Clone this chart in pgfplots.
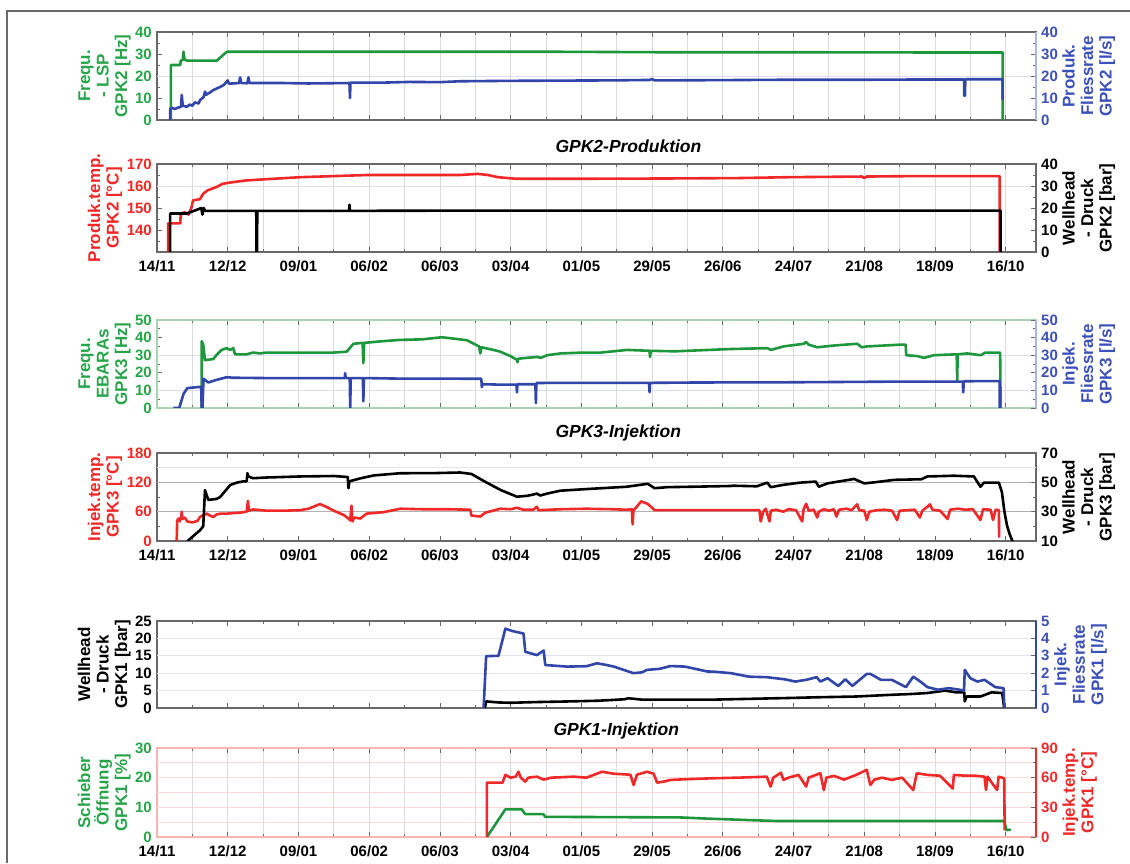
\documentclass[border=0pt]{standalone}
\usepackage{pgfplots}
\pgfplotsset{compat=1.18}
\usepackage{fontspec}
\setmainfont{Liberation Sans}
\definecolor{cgreen}{RGB}{30,150,60}
\definecolor{cblue}{RGB}{50,70,170}
\definecolor{cred}{RGB}{240,40,40}
\definecolor{lgreen}{RGB}{40,165,75}
\definecolor{lblue}{RGB}{60,80,185}
\definecolor{axgray}{RGB}{105,105,105}
\newcommand\tk{\bfseries\fontsize{15}{15}\selectfont}
\newcommand\lb{\bfseries\fontsize{17}{18.5}\selectfont}
\newcommand\ttl{\bfseries\itshape\fontsize{17.5}{18}\selectfont}

\pgfplotsset{
 panel/.style={scale only axis, width=879pt, xmin=0, xmax=348,
   xtick={0,28,...,336}, minor xtick={14,42,...,322},
   xticklabels={},
   tick align=inside,
   major tick length=5pt, minor tick length=3pt,
   every tick/.style={axgray, line width=0.8pt},
   tick label style={font=\tk, inner sep=1pt},
   xticklabel style={yshift=-7pt},
   /pgf/number format/assume math mode=true,
   axis line style={axgray, line width=1.2pt},
   ylabel style={font=\lb, align=center},
   every axis plot/.append style={no markers, line width=2.6pt, line join=round},
   anchor=south west,
 },
 leftax/.style={panel, ytick pos=left, yticklabel style={xshift=-4pt}},
 rightax/.style={panel, hide x axis, axis y line*=right, yticklabel style={xshift=4pt}},
 vgrid/.style={xmajorgrids, xminorgrids, major grid style={gray!28, line width=0.8pt}, minor grid style={gray!28, line width=0.8pt}},
 hgrid/.style={extra y ticks={#1}, extra y tick labels={}, extra y tick style={grid=major, major tick length=0pt}},
 datelabels/.style={xticklabels={14/11,12/12,09/01,06/02,06/03,03/04,01/05,29/05,26/06,24/07,21/08,18/09,16/10}},
}

\begin{document}
\begin{tikzpicture}
\useasboundingbox (0pt,0pt) rectangle (1130pt,863pt);
\draw[axgray, line width=1.6pt] (7pt,0pt) -- (7pt,852pt) -- (1130pt,852pt);

% ---------------- Panel 1 ----------------
\begin{axis}[leftax, vgrid, at={(157pt,743pt)}, height=88pt, ymin=0, ymax=40,
  ytick={0,10,20,30,40}, minor ytick={5,15,25,35},
  yticklabel style={text=lgreen}, ylabel={Frequ.\\- LSP\\GPK2 [Hz]}, ylabel style={text=lgreen},
  hgrid={20}, extra y tick style={major grid style={cblue!18, line width=0.8pt}}]
\addplot[cgreen] coordinates {(5.5,0) (5.5,25) (9.2,25) (9.4,27) (10.2,27.2) (10.5,31) (10.9,27.5) (12,27) (23.7,27) (27.6,31) (40,31) (80,31) (120,31) (160,31) (200,30.8) (250,30.8) (300,30.7) (334.8,30.7) (334.8,0)};
\end{axis}
\begin{axis}[rightax, at={(157pt,743pt)}, height=88pt, ymin=0, ymax=40,
  ytick={0,10,20,30,40}, minor ytick={5,15,25,35},
  yticklabel style={text=lblue}, ylabel={Produk.\\Fliessrate\\GPK2 [l/s]}, ylabel style={text=lblue},
  axis line style={-, draw=cblue!40, line width=1.2pt}]
\addplot[cblue] coordinates {(5.2,0) (5.2,5) (6,5.5) (7,5) (8,5.5) (9.5,6) (9.8,11.4) (10.2,6.5) (11.8,6) (13,7) (14,6.5) (15,8) (16.5,7.5) (17,9) (18.5,10.5) (19,12.9) (19.5,11.5) (21,12.5) (22.3,13.6) (24,14.5) (25,15) (26.5,16) (27.6,17.4) (28,18) (28.5,16.5) (32.5,16.8) (32.9,19.4) (33.3,16.8) (35.8,16.7) (36.2,19.4) (36.6,16.8) (50,16.8) (60,16.6) (76.2,16.8) (76.4,10) (76.6,17) (90,17) (100,17.3) (112,17.2) (120,17.6) (140,17.8) (160,17.9) (180,18) (195,18.2) (196,18.6) (197,18) (220,18.1) (250,18.3) (280,18.3) (300,18.4) (319.5,18.4) (319.6,11) (319.9,11) (320,18.5) (334.8,18.5) (334.8,9)};
\end{axis}

\node[anchor=west, font=\ttl] at (552pt,717pt) {GPK2-Produktion};

% ---------------- Panel 2 ----------------
\begin{axis}[leftax, vgrid, datelabels, at={(157pt,611pt)}, height=88pt, ymin=130, ymax=170,
  ytick={140,150,160,170}, minor ytick={135,145,155,165},
  yticklabel style={text=cred}, ylabel={Produk.temp.\\GPK2 [°C]}, ylabel style={text=cred},
  hgrid={160}, extra y tick style={major grid style={gray!25, line width=0.8pt}}]
\addplot[cred] coordinates {(4.4,130) (4.4,143) (9.2,143) (9.4,147.5) (11,148) (12.5,147) (13.6,150) (14.3,153.5) (17,154) (18.3,156.5) (20,158) (23.5,159.5) (26,161) (28.5,161.5) (35,162.5) (42,163) (56.6,164) (70,164.5) (83.5,165) (100,165) (120,165) (127,165.5) (131,165) (135,164) (142,163.3) (170,163.3) (200,163.4) (230,163.6) (250,164) (279,164.3) (280,163.6) (281,164.3) (300,164.5) (333.6,164.5) (333.6,130)};
\end{axis}
\begin{axis}[rightax, at={(157pt,611pt)}, height=88pt, ymin=0, ymax=40,
  ytick={0,10,20,30,40}, minor ytick={5,15,25,35},
  ylabel={Wellhead\\- Druck\\GPK2 [bar]},
  axis line style={-, draw=axgray, line width=1.2pt}]
\addplot[black] coordinates {(5.2,0) (5.2,17.5) (11.8,17.5) (13,18) (16.5,19.5) (17.5,20) (18,17) (18.5,20) (19,18.7) (39.3,18.7) (39.4,0) (39.6,0) (39.7,18.7) (76,18.7) (76.2,21.5) (76.4,18.7) (120,18.8) (200,18.8) (334,18.8) (334,0)};
\end{axis}

% ---------------- Panel 3 ----------------
\begin{axis}[leftax, vgrid, at={(157pt,455pt)}, height=88pt, ymin=0, ymax=50,
  ytick={0,10,...,50}, minor ytick={5,15,...,45},
  axis line style={draw=cgreen!40},
  yticklabel style={text=lgreen}, ylabel={Frequ.\\EBARAs\\GPK3 [Hz]}, ylabel style={text=lgreen},
  hgrid={10,30}, extra y tick style={major grid style={cblue!18, line width=0.8pt}}]
\addplot[cgreen] coordinates {(17.7,0) (17.7,38) (18.3,36) (19,27.2) (22.3,27.8) (23.6,30.2) (25.6,33) (27.6,34) (29,33) (30.2,34) (30.9,30.5) (35.5,30.5) (38,31.5) (40.8,31) (43.5,31.5) (60,31.5) (70,31.5) (75.1,32) (77.8,36.5) (81.4,37) (81.7,25.5) (82,37) (89.7,38) (96.3,38.7) (105,39) (112.8,40.2) (117,39.5) (122.7,38.5) (127.5,35) (128,31) (128.5,34.5) (133.2,33) (135.9,32) (139.9,29.5) (142.5,27.4) (142.7,26) (143,28) (146.5,28.5) (150.4,29) (152,28.5) (154.4,30) (159.7,31) (168.9,31.5) (175.8,31.5) (186.1,33) (195,32.5) (195.2,29) (195.5,32.5) (205,32.2) (215.1,32.8) (227,33.5) (241.6,34) (243,33) (248.1,35) (256.1,36.5) (257,37.5) (258,36) (261.4,34.5) (268,35.5) (277.2,36.5) (279,34.5) (281.2,35) (294.4,36) (296.4,36) (296.6,30) (301,29.5) (303.6,28.5) (307.6,30) (316.6,30.5) (316.8,15.5) (317,30.5) (320.8,31) (326.1,30) (328,31.5) (333.8,31.5) (334,0)};
\end{axis}
\begin{axis}[rightax, at={(157pt,455pt)}, height=88pt, ymin=0, ymax=50,
  ytick={0,10,...,50}, minor ytick={5,15,...,45},
  yticklabel style={text=lblue}, ylabel={Injek.\\Fliessrate\\GPK3 [l/s]}, ylabel style={text=lblue},
  axis line style={-, draw=cblue!40, line width=1.2pt}]
\addplot[cblue] coordinates {(6.5,0) (8.8,0) (10.5,8) (12,11.3) (17,12) (17.5,12) (17.7,0) (18,0) (18.4,16.6) (19,16) (20.3,14.5) (23.6,16) (27.6,17.5) (30,17.2) (43.5,17) (70,17) (74.3,17) (74.5,19.8) (74.7,17) (76.3,17) (76.5,0) (76.7,17) (81.5,17) (81.7,3.8) (81.9,17) (96,16.7) (110,16.7) (128.4,16.6) (128.6,11.9) (128.8,13.5) (135,13.3) (142.3,13.3) (142.5,8.9) (142.7,13.5) (149.8,13.5) (150,2.8) (150.2,14.2) (160,14.3) (194.8,14.3) (195,9) (195.2,14.3) (215,14.5) (250,14.6) (294,15) (319,15) (319.2,8.9) (319.4,15.2) (333.6,15.3) (333.6,0)};
\end{axis}

\node[anchor=west, font=\ttl] at (552pt,430pt) {GPK3-Injektion};

% ---------------- Panel 4 ----------------
\begin{axis}[leftax, datelabels, at={(157pt,322pt)}, height=88pt, ymin=0, ymax=180,
  ytick={0,60,120,180}, minor ytick={30,90,150},
  yticklabel style={text=cred}, ylabel={Injek.temp.\\GPK3 [°C]}, ylabel style={text=cred},
  hgrid={60,120}, extra y tick style={major grid style={gray!60, line width=0.9pt}}]
\addplot[cred] coordinates {(7.8,0) (8,42) (8.6,46) (9,40) (9.6,50) (9.8,60) (10,45) (11,48) (12,40) (14,38) (16,41) (17,49) (18,52) (19.6,56) (21,52) (22.3,49) (23.5,54) (25,56) (27.6,56) (30,57) (33,58) (35.5,60) (36,82) (36.4,62) (38,64.5) (43.5,62) (50,62) (56.6,63) (60,66) (64.5,75.5) (67,70) (70,62) (74,53) (76,45) (76.5,42) (77,72) (77.4,40) (78,48) (80.5,46) (83,56) (89.7,59) (96.3,66) (105,65) (115,65) (124,64) (124.5,52) (128,50) (130,58) (136,66) (140,65) (142.5,68) (145,64) (149,64) (150.4,70) (151,63) (160,65) (170,66) (180,65) (186,64) (188,65) (188.3,34) (188.6,62) (191.7,81) (194.3,76) (197,63) (215,63) (238.5,63) (239,40) (240,60) (241,66) (242.5,40) (243,62) (245,64) (248,60) (250,65) (253,63) (255.4,40) (256,65) (257,76) (258,62) (260,64) (261.4,48) (262,60) (264,65) (266,62) (268,65) (269,50) (270,64) (273,66) (275,63) (277.2,75) (278,63) (280,62) (281,43) (282,60) (285,63) (288,64) (291,62) (293,43) (294,62) (297,63) (300,64) (302,48) (303,62) (305,70) (306,75) (307,64) (310,62) (313,45) (314,64) (317,66) (320,64) (323,65) (326,43) (327,65) (330,64) (331,43) (332,64) (333.3,63) (333.4,7)};
\end{axis}
\begin{axis}[rightax, at={(157pt,322pt)}, height=88pt, ymin=10, ymax=70,
  ytick={10,30,50,70}, minor ytick={20,40,60},
  ylabel={Wellhead\\- Druck\\GPK3 [bar]},
  hgrid={60}, extra y tick style={major grid style={gray!20, line width=0.8pt}},
  axis line style={-, draw=axgray, line width=1.2pt}]
\addplot[black] coordinates {(12.1,10) (17,17.3) (18.3,20) (19,44.7) (20.3,38) (23.6,38.7) (25,40) (29,48.2) (31.6,49.8) (34.2,50.7) (35.5,50.7) (35.8,56.2) (36.2,54) (38,52.8) (43.5,53.3) (56.6,54) (70,54.3) (75,53.7) (75.5,53.7) (75.8,46) (76.2,50.7) (80.5,52.7) (85.8,54.7) (96.3,56.2) (110,56.3) (120,56.7) (124.5,55.7) (129.8,50.5) (136,44.8) (142.5,40.2) (146.5,40.8) (149,41.7) (150.4,42.3) (151.7,41) (154.4,42.3) (159.7,44.3) (169,45.3) (186,47) (194.3,49) (197,46) (202,46.7) (215,47.1) (227,47.5) (228,47.7) (237.5,47.3) (241.6,49.8) (243,46.7) (248,48.3) (254.7,49.8) (260.8,50.5) (262,47) (265.5,49.3) (276,52.3) (280,49.3) (284,50) (292,51.7) (302.6,52.1) (305,54) (315.5,54.5) (323.4,54) (326,47) (327.4,49.8) (333.3,49.8) (334.5,43.3) (335.5,30) (336.5,20.7) (337.5,15) (338.5,10.7) (339.5,6.7)};
\end{axis}

% ---------------- Panel 5 ----------------
\begin{axis}[leftax, at={(157pt,155pt)}, height=87pt, ymin=0, ymax=25,
  ytick={0,5,...,25},
  ylabel={Wellhead\\- Druck\\GPK1 [bar]},
  hgrid={5,10,15,20}, extra y tick style={major grid style={cblue!15, line width=0.8pt}}]
\addplot[black] coordinates {(129.8,0) (130.3,1.9) (135,1.6) (140,1.5) (150,1.7) (163.8,1.9) (175,2.1) (185,2.5) (186.7,2.8) (192,2.4) (220,2.4) (248.5,2.85) (262.6,3.1) (276.8,3.3) (290.9,3.8) (298,4.0) (305,4.3) (312,5.0) (316.3,4.5) (319.6,4.5) (319.8,1.9) (320.5,3.3) (326,3.3) (330.4,4.5) (334.6,4.3) (335.4,0)};
\end{axis}
\begin{axis}[rightax, at={(157pt,155pt)}, height=87pt, ymin=0, ymax=5,
  ytick={0,1,...,5},
  yticklabel style={text=lblue}, ylabel={Injek.\\Fliessrate\\GPK1 [l/s]}, ylabel style={text=lblue},
  axis line style={-, draw=cblue, line width=1.2pt}]
\addplot[cblue] coordinates {(129.3,0) (130.3,2.98) (135.2,3.0) (137.9,4.56) (140.5,4.43) (145.1,4.28) (145.8,3.23) (150.4,3.04) (152,3.2) (153.1,3.3) (153.7,2.47) (162.3,2.38) (170,2.4) (174.2,2.57) (178,2.47) (180.8,2.38) (188.7,2.0) (192,2.05) (194,2.19) (199,2.25) (203.3,2.41) (209,2.38) (217.8,2.1) (220.3,2.09) (227.3,2.0) (234.4,1.8) (241.4,1.77) (248.5,1.65) (252.7,1.52) (257,1.62) (261.2,1.77) (262.6,1.52) (265.5,1.71) (269.7,1.27) (272.5,1.65) (275.3,1.27) (281,1.96) (282.4,1.96) (286.6,1.62) (290.9,1.62) (296.5,1.2) (299.4,1.8) (302.2,1.52) (305,1.2) (309.2,1.05) (313.5,1.14) (317.7,1.05) (319.5,1.0) (319.8,2.19) (322,1.71) (324.8,1.52) (327.6,1.62) (331.9,1.2) (335.2,1.14) (335.4,0)};
\end{axis}

\node[anchor=west, font=\ttl] at (550pt,132pt) {GPK1-Injektion};

% ---------------- Panel 6 ----------------
\begin{axis}[leftax, vgrid, datelabels, at={(157pt,26pt)}, height=89pt, ymin=0, ymax=30,
  ytick={0,10,20,30}, minor ytick={5,15,25},
  y axis line style={draw=cred!35},
  yticklabel style={text=lgreen}, ylabel={Schieber\\Öffnung\\GPK1 [\%]}, ylabel style={text=lgreen},
  hgrid={5,10,15,20,25}, extra y tick style={major grid style={cred!18, line width=0.8pt}}]
\addplot[cgreen] coordinates {(130.6,0) (137.9,9.3) (144.4,9.3) (145.8,7.7) (153,7.7) (153.7,6.8) (180,6.7) (207,6.6) (217.8,6.2) (234.4,5.7) (245,5.4) (335.4,5.4) (336.3,2.3) (338,2.5)};
\end{axis}
\begin{axis}[rightax, at={(157pt,26pt)}, height=89pt, ymin=0, ymax=90,
  ytick={0,30,60,90}, minor ytick={15,45,75},
  yticklabel style={text=cred}, ylabel={Injek.temp.\\GPK1 [°C]}, ylabel style={text=cred},
  axis line style={-, draw=cred, line width=1.2pt}]
\addplot[cred] coordinates {(130.6,0) (130.6,55) (136.8,55) (137.9,62.8) (140,60) (142,61) (143.1,66) (144,60) (145.8,56) (147,60) (150.4,61) (153.1,58) (156,60) (165,61) (170,60) (176.2,66) (180.8,64) (187.4,63) (188.7,52.6) (190,63) (194,66) (196.6,64) (198,55) (200.6,56) (203.3,57.7) (210,58.5) (220.3,59.4) (230,60) (241.4,61) (242.9,51) (244,60) (247,65) (248,57.7) (250,60) (254,62.8) (257,51) (258,60) (262.6,64.5) (264,47.5) (265,60) (268,61.8) (272,58) (276.8,62.8) (281,67.9) (282.4,52.6) (284,58) (287,60) (290.9,57.7) (295,60) (299.4,47.5) (300.8,64.5) (305,62.8) (310,62) (315,49) (315.5,62.8) (320,62) (324,62) (327.6,61) (328.2,47.5) (328.8,61) (332.6,47.5) (333.2,61) (335.4,59.4) (335.6,6.8)};
\end{axis}
\end{tikzpicture}
\end{document}
